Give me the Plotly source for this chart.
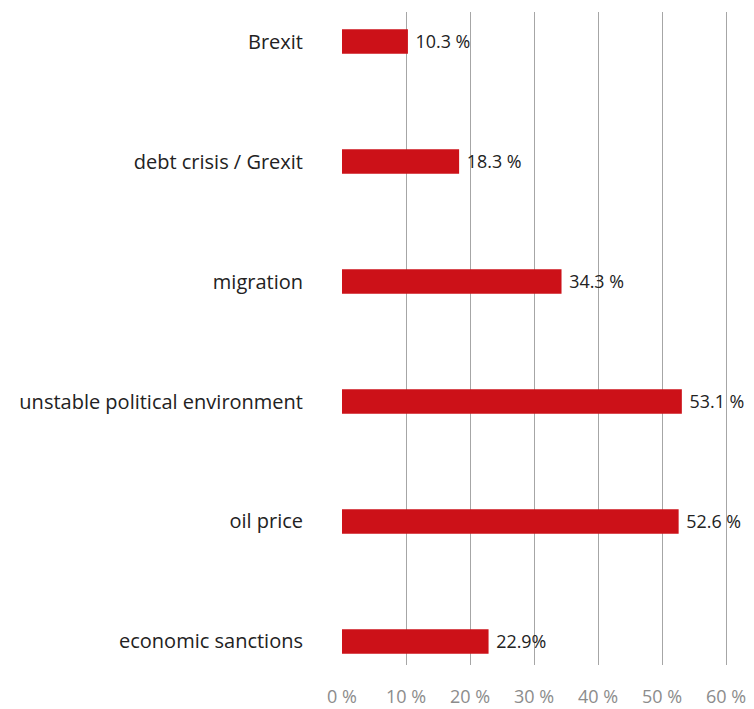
import plotly.graph_objects as go

categories = ["Brexit", "debt crisis / Grexit", "migration",
              "unstable political environment", "oil price", "economic sanctions"]
values = [10.3, 18.3, 34.3, 53.1, 52.6, 22.9]
value_labels = ["10.3 %", "18.3 %", "34.3 %", "53.1 %", "52.6 %", "22.9%"]
tick_vals = [0, 10, 20, 30, 40, 50, 60]
tick_text = ["0 %", "10 %", "20 %", "30 %", "40 %", "50 %", "60 %"]

fig = go.Figure(go.Bar(
    x=values, y=list(range(len(categories))), orientation="h",
    marker=dict(color="#cc1118", line=dict(width=0)),
    width=0.204,
    text=value_labels, textposition="outside", texttemplate=" %{text}",
    textfont=dict(family="Open Sans", size=19, color="#222222"),
    cliponaxis=False,
))

fig.update_layout(
    width=746, height=701,
    margin=dict(l=334, r=0, t=4, b=44, autoexpand=False),
    plot_bgcolor="white", paper_bgcolor="white",
    showlegend=False,
    font=dict(family="Open Sans"),
    xaxis=dict(range=[0, 64.375], tickvals=tick_vals, ticktext=tick_text,
               showgrid=True, gridcolor="#a6a6a6", gridwidth=1.3,
               zeroline=False, showline=False, automargin=False,
               ticks="outside", ticklen=15, tickcolor="rgba(0,0,0,0)",
               tickfont=dict(family="Open Sans", size=18, color="#8c8c8c")),
    yaxis=dict(range=[5.196, -0.246], tickvals=list(range(len(categories))),
               ticktext=categories, showgrid=False, zeroline=False,
               showline=False, ticks="", ticklabelstandoff=38, automargin=False,
               tickfont=dict(family="Open Sans", size=20, color="#222222")),
)

fig.write_html("out.html")
